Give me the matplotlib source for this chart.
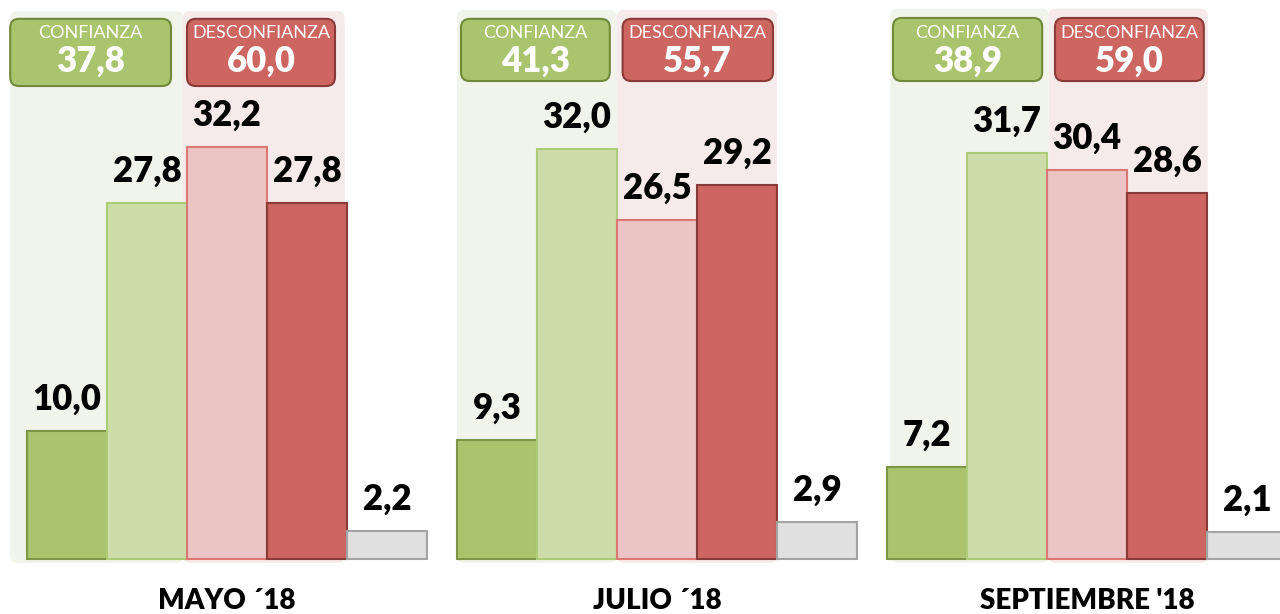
import matplotlib
matplotlib.use("Agg")
import matplotlib.pyplot as plt
from matplotlib.patches import FancyBboxPatch

plt.rcParams['font.family'] = ['Lato', 'DejaVu Sans']

# datos
periodos = ["MAYO ´18", "JULIO ´18", "SEPTIEMBRE '18"]
confianza = [37.8, 41.3, 38.9]
desconfianza = [60.0, 55.7, 59.0]
mucha_conf = [10.0, 9.3, 7.2]
algo_conf = [27.8, 32.0, 31.7]
algo_desc = [32.2, 26.5, 30.4]
mucha_desc = [27.8, 29.2, 28.6]
ns_nc = [2.2, 2.9, 2.1]

# estilos de cada barra: (relleno, borde)
estilos = [("#AAC46D", "#7C9645"), ("#CDDDAA", "#AECB78"), ("#ECC4C4", "#DB7873"),
           ("#CD6560", "#8A3A37"), ("#E0E0E0", "#A3A3A3")]

inicio_grupo = [0, 5.375, 10.75]
# fondo verde/rosa: (x0 verde, x frontera, x1 rosa, y top)
fondos = [(-0.21, 1.95, 3.97, 42.8), (0.0, 2.0, 4.0, 42.9), (0.04, 2.02, 4.01, 43.0)]
# cajas: (verde x0, verde x1, roja x0, roja x1, y0, y1)
cajas = [(-0.21, 1.80, 2.00, 3.85, 36.95, 42.2),
         (0.05, 1.91, 2.07, 3.95, 37.34, 42.2),
         (0.075, 1.94, 2.10, 3.96, 37.34, 42.27)]

px_x = 80.0
px_y = 12.8
aspecto = px_x / px_y

fig = plt.figure(figsize=(12.8, 6.14), dpi=100)
ax = fig.add_axes([0, 0, 1, 1])
ax.set_xlim(-27 / px_x, (1280 - 27) / px_x)
ax.set_ylim(-55 / px_y, 559 / px_y)
ax.axis("off")


def caja(x0, x1, y0, y1, fc, ec, lw, r, z):
    p = FancyBboxPatch((x0 + r, y0 + r * aspecto), (x1 - x0) - 2 * r, (y1 - y0) - 2 * r * aspecto,
                       boxstyle=f"round,pad={r},rounding_size={r}", mutation_aspect=aspecto,
                       fc=fc, ec=ec, lw=lw, zorder=z)
    ax.add_patch(p)


for g in range(3):
    x = inicio_grupo[g]
    f = fondos[g]
    caja(x + f[0], x + f[1], -0.3, f[3], "#F1F4EB", "none", 0, 0.09, 0)
    caja(x + f[1], x + f[2], -0.3, f[3], "#F6EAEA", "none", 0, 0.09, 0)

    valores = [mucha_conf[g], algo_conf[g], algo_desc[g], mucha_desc[g], ns_nc[g]]
    for i, v in enumerate(valores):
        ax.bar(x + i, v, width=1.0, align="edge", color=estilos[i][0],
               edgecolor=estilos[i][1], linewidth=1.5, zorder=2)
        ax.text(x + i + 0.5, v + 1.2, f"{v:.1f}".replace(".", ","), ha="center", va="bottom",
                fontsize=25, fontweight="heavy", color="black", zorder=3)

    c = cajas[g]
    caja(x + c[0], x + c[1], c[4], c[5], "#AAC46D", "#6F8A3A", 1.5, 0.11, 3)
    caja(x + c[2], x + c[3], c[4], c[5], "#CD6560", "#8A3A37", 1.5, 0.11, 3)
    for xa, xb, etiqueta, total in [(c[0], c[1], "CONFIANZA", confianza[g]),
                                    (c[2], c[3], "DESCONFIANZA", desconfianza[g])]:
        xm = x + (xa + xb) / 2
        ax.text(xm, 41.1, etiqueta, ha="center", va="center", fontsize=13,
                color="white", zorder=4)
        ax.text(xm, 38.9, f"{total:.1f}".replace(".", ","), ha="center", va="center",
                fontsize=25, fontweight="heavy", color="white", zorder=4)

    ax.text(x + 2.5, -3.3, periodos[g], ha="center", va="center", fontsize=20,
            fontweight="heavy", color="black")

fig.savefig("out.png", dpi=100)
